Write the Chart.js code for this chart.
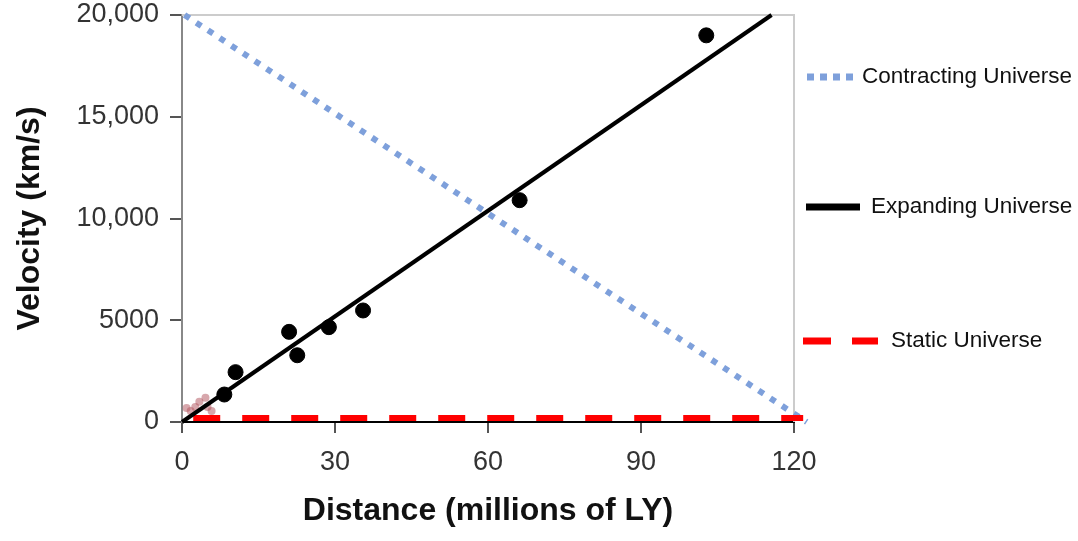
<!DOCTYPE html>
<html>
<head>
<meta charset="utf-8">
<script src="https://cdn.jsdelivr.net/npm/chart.js@4.4.1/dist/chart.umd.min.js"></script>
<style>
  html, body { margin: 0; padding: 0; background: #ffffff; }
  #wrap { width: 1078px; height: 541px; }
</style>
</head>
<body>
<div id="wrap"><canvas id="c" width="1078" height="541"></canvas></div>
<script>
// ---- data ----
const galaxyDistance = [8.3, 10.5, 21.0, 22.6, 28.8, 35.5, 66.2, 102.8];
const galaxyVelocity = [1350, 2450, 4430, 3280, 4660, 5480, 10900, 19000];

const localDistance = [0.9, 1.7, 2.6, 3.4, 4.6, 5.0, 5.8];
const localVelocity = [690, 540, 740, 990, 1190, 740, 540];

const expandingX = [0, 115.6];
const expandingY = [0, 20000];

const contractingX = [0.5, 122.5];
const contractingY = [20000, 0];

const staticX = [2.2, 121.8];
const staticY = [200, 200];

const xTicks = [0, 30, 60, 90, 120];
const yTicks = [0, 5000, 10000, 15000, 20000];

const seriesLabels = ['Contracting Universe', 'Expanding Universe', 'Static Universe'];

function pts(xs, ys) { return xs.map((x, i) => ({ x: x, y: ys[i] })); }

const BLUE = 'rgb(126,160,219)';
const RED = '#ff0000';
const BLACK = '#000000';
const FONT = '"Liberation Sans", Arial, sans-serif';

const framePlugin = {
  id: 'frame',
  beforeDatasetsDraw(chart) {
    const a = chart.chartArea, ctx = chart.ctx;
    ctx.save();
    ctx.strokeStyle = '#cccccc';
    ctx.lineWidth = 2;
    ctx.beginPath();
    ctx.moveTo(a.left, a.top);
    ctx.lineTo(a.right, a.top);
    ctx.lineTo(a.right, a.bottom);
    ctx.stroke();
    ctx.restore();
  }
};

const legendPlugin = {
  id: 'customLegend',
  afterDraw(chart) {
    const ctx = chart.ctx, r = chart.chartArea.right;
    const items = [
      { label: seriesLabels[0], color: BLUE, width: 7, dash: [7, 6], x0: r + 13, x1: r + 62, y: 77, tx: r + 68 },
      { label: seriesLabels[1], color: BLACK, width: 7, dash: [], x0: r + 12, x1: r + 66, y: 207, tx: r + 77 },
      { label: seriesLabels[2], color: RED, width: 7, dash: [28, 21], x0: r + 9, x1: r + 84, y: 341, tx: r + 97 }
    ];
    ctx.save();
    items.forEach(it => {
      ctx.strokeStyle = it.color;
      ctx.lineWidth = it.width;
      ctx.setLineDash(it.dash);
      ctx.lineCap = 'butt';
      ctx.beginPath();
      ctx.moveTo(it.x0, it.y);
      ctx.lineTo(it.x1, it.y);
      ctx.stroke();
      ctx.setLineDash([]);
      ctx.fillStyle = '#111111';
      ctx.font = '22.5px ' + FONT;
      ctx.textBaseline = 'middle';
      ctx.textAlign = 'left';
      ctx.fillText(it.label, it.tx, it.y);
    });
    ctx.restore();
  }
};

new Chart(document.getElementById('c'), {
  type: 'scatter',
  data: {
    datasets: [
      {
        label: 'Galaxies',
        data: pts(galaxyDistance, galaxyVelocity),
        backgroundColor: BLACK,
        borderColor: BLACK,
        pointRadius: 7.5,
        pointHoverRadius: 7.5,
        showLine: false
      },
      {
        label: seriesLabels[1],
        data: pts(expandingX, expandingY),
        showLine: true,
        borderColor: BLACK,
        borderWidth: 4,
        pointRadius: 0,
        clip: false
      },
      {
        label: seriesLabels[2],
        data: pts(staticX, staticY),
        showLine: true,
        borderColor: RED,
        borderWidth: 6,
        borderDash: [27, 22],
        borderCapStyle: 'butt',
        pointRadius: 0,
        clip: false
      },
      {
        label: seriesLabels[0],
        data: pts(contractingX, contractingY),
        showLine: true,
        borderColor: BLUE,
        borderWidth: 6,
        borderDash: [6, 8],
        borderCapStyle: 'butt',
        pointRadius: 0,
        clip: false
      },
      {
        label: 'Local',
        data: pts(localDistance, localVelocity),
        backgroundColor: 'rgba(175,80,90,0.5)',
        borderColor: 'rgba(175,80,90,0)',
        pointRadius: 4,
        showLine: false
      }
    ]
  },
  options: {
    responsive: false,
    animation: false,
    devicePixelRatio: 1,
    layout: { padding: { top: 15, right: 284, left: 0, bottom: 0 } },
    plugins: {
      legend: { display: false },
      tooltip: { enabled: false }
    },
    scales: {
      x: {
        type: 'linear',
        min: 0,
        max: 120,
        afterBuildTicks: s => { s.ticks = xTicks.map(v => ({ value: v })); },
        afterFit: s => { s.height = 119; },
        border: { display: true, color: BLACK, width: 2 },
        grid: { drawOnChartArea: false, drawTicks: true, tickLength: 11, color: '#555555', lineWidth: 2 },
        ticks: {
          color: '#333333',
          padding: 13,
          maxRotation: 0,
          font: { family: FONT, size: 27 }
        },
        title: {
          display: true,
          text: 'Distance (millions of LY)',
          color: '#111111',
          font: { family: FONT, size: 32, weight: 'bold' },
          padding: { top: 0, bottom: 11 }
        }
      },
      y: {
        type: 'linear',
        min: 0,
        max: 20000,
        afterBuildTicks: s => { s.ticks = yTicks.map(v => ({ value: v })); },
        afterFit: s => { s.width = 182; s.paddingTop = 0; s.paddingBottom = 0; },
        border: { display: true, color: '#888888', width: 2 },
        grid: { drawOnChartArea: false, drawTicks: true, tickLength: 12, color: '#555555', lineWidth: 2 },
        ticks: {
          color: '#333333',
          padding: 11,
          font: { family: FONT, size: 27 },
          callback: v => v >= 10000 ? v.toLocaleString('en-US') : String(v)
        },
        title: {
          display: true,
          text: 'Velocity (km/s)',
          color: '#111111',
          font: { family: FONT, size: 32, weight: 'bold' },
          padding: { top: 11, bottom: 0 }
        }
      }
    }
  },
  plugins: [framePlugin, legendPlugin]
});
</script>
</body>
</html>
